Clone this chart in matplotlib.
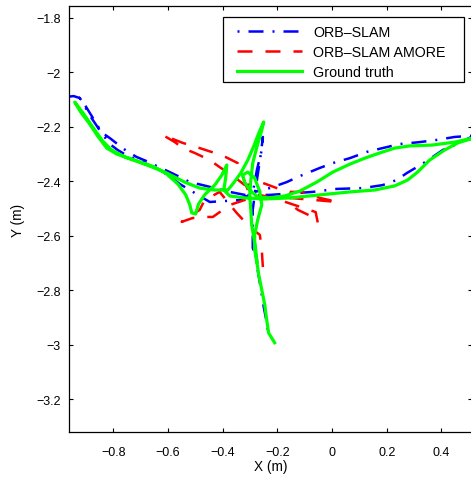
import numpy as np
import matplotlib
matplotlib.use("Agg")
import matplotlib.pyplot as plt
from matplotlib.patches import Rectangle

plt.rcParams['font.family'] = ['Liberation Sans', 'DejaVu Sans']

# ground truth trajectory (m)
gt_x = [-0.210, -0.221, -0.232, -0.239, -0.246, -0.257, -0.268, -0.275, -0.279, -0.286,
        -0.294, -0.297, -0.301, -0.297, -0.290, -0.275, -0.257, -0.250, -0.268, -0.286,
        -0.308, -0.334, -0.360, -0.381, -0.429, -0.484, -0.539, -0.612, -0.685, -0.758,
        -0.806, -0.839, -0.875, -0.908, -0.941, -0.919, -0.886, -0.857, -0.824, -0.787,
        -0.722, -0.648, -0.605, -0.564, -0.535, -0.520, -0.513, -0.499, -0.488, -0.466,
        -0.429, -0.403, -0.385, -0.389, -0.396, -0.374, -0.319, -0.246, -0.155, -0.045,
        0.065, 0.156, 0.229, 0.277, 0.313, 0.357, 0.412, 0.460, 0.520, 0.449,
        0.365, 0.284, 0.229, 0.174, 0.120, 0.065, 0.003, -0.056, -0.118, -0.173,
        -0.228, -0.272, -0.301, -0.319, -0.327, -0.308, -0.283, -0.264, -0.257, -0.272,
        -0.283, -0.283, -0.275]
gt_y = [-2.993, -2.975, -2.957, -2.909, -2.854, -2.799, -2.744, -2.696, -2.652, -2.608,
        -2.560, -2.505, -2.450, -2.395, -2.333, -2.274, -2.212, -2.182, -2.223, -2.270,
        -2.322, -2.370, -2.406, -2.432, -2.432, -2.425, -2.403, -2.366, -2.337, -2.311,
        -2.285, -2.252, -2.201, -2.153, -2.109, -2.146, -2.190, -2.234, -2.278, -2.300,
        -2.322, -2.348, -2.373, -2.410, -2.450, -2.487, -2.516, -2.520, -2.483, -2.450,
        -2.414, -2.377, -2.340, -2.388, -2.432, -2.454, -2.461, -2.465, -2.461, -2.450,
        -2.439, -2.432, -2.417, -2.395, -2.366, -2.322, -2.285, -2.259, -2.240, -2.256,
        -2.267, -2.270, -2.278, -2.296, -2.315, -2.337, -2.366, -2.403, -2.436, -2.454,
        -2.461, -2.458, -2.432, -2.406, -2.377, -2.366, -2.388, -2.439, -2.487, -2.542,
        -2.597, -2.652, -2.696]

# ORB-SLAM estimate (m)
orb_x = [-0.235, -0.242, -0.250, -0.257, -0.264, -0.272, -0.275, -0.290, -0.290, -0.290,
         -0.283, -0.272, -0.261, -0.253, -0.257, -0.275, -0.290, -0.338, -0.447, -0.484,
         -0.520, -0.557, -0.594, -0.630, -0.685, -0.747, -0.784, -0.813, -0.850, -0.894,
         -0.908, -0.923, -0.945, -0.963, -0.937, -0.916, -0.897, -0.879, -0.857, -0.839,
         -0.813, -0.776, -0.747, -0.714, -0.678, -0.641, -0.594, -0.557, -0.520, -0.473,
         -0.429, -0.374, -0.319, -0.228, -0.071, 0.017, 0.112, 0.185, 0.237, 0.273,
         0.310, 0.346, 0.405, 0.441, 0.520, 0.449, 0.383, 0.321, 0.248, 0.185,
         0.127, 0.065, 0.003, -0.045, -0.118, -0.166, -0.228, -0.283]
orb_y = [-2.946, -2.902, -2.861, -2.817, -2.773, -2.726, -2.682, -2.645, -2.579, -2.505,
         -2.450, -2.377, -2.304, -2.237, -2.285, -2.359, -2.443, -2.469, -2.476, -2.454,
         -2.432, -2.410, -2.381, -2.359, -2.333, -2.307, -2.285, -2.263, -2.212, -2.146,
         -2.113, -2.094, -2.087, -2.089, -2.087, -2.098, -2.131, -2.160, -2.197, -2.223,
         -2.241, -2.270, -2.292, -2.311, -2.326, -2.344, -2.366, -2.384, -2.403, -2.414,
         -2.425, -2.439, -2.450, -2.450, -2.439, -2.428, -2.425, -2.414, -2.395, -2.370,
         -2.348, -2.326, -2.285, -2.270, -2.232, -2.237, -2.248, -2.256, -2.263, -2.278,
         -2.292, -2.315, -2.333, -2.351, -2.381, -2.403, -2.425, -2.439]

# ORB-SLAM AMORE estimate (m)
amore_x = [-0.308, -0.345, -0.389, -0.429, -0.484, -0.546, -0.619, -0.575, -0.546, -0.502,
           -0.447, -0.411, -0.367, -0.319, -0.253, -0.202, -0.155, -0.107, -0.045, 0.021,
           -0.155, -0.162, -0.125, -0.071, -0.052, -0.060, -0.191, -0.264, -0.374, -0.436,
           -0.477, -0.510, -0.550, -0.484, -0.466, -0.411, -0.349, -0.301, -0.264, -0.257,
           -0.253]
amore_y = [-2.432, -2.333, -2.311, -2.296, -2.278, -2.259, -2.230, -2.256, -2.278, -2.296,
           -2.322, -2.348, -2.377, -2.414, -2.406, -2.425, -2.439, -2.439, -2.461, -2.476,
           -2.461, -2.476, -2.505, -2.531, -2.553, -2.513, -2.469, -2.450, -2.487, -2.531,
           -2.531, -2.535, -2.549, -2.505, -2.469, -2.439, -2.516, -2.568, -2.597, -2.652,
           -2.715]

fig = plt.figure(figsize=(4.71, 4.85), dpi=100)
ax = fig.add_axes([69 / 471, 52 / 485, 402.5 / 471, 426 / 485])

ax.plot(orb_x, orb_y, color=(0, 0, 1), linewidth=1.8,
        linestyle=(0, (0.8, 3.6, 6, 3.6)), label="ORB\u2013SLAM")
ax.plot(amore_x, amore_y, color=(1, 0, 0), linewidth=1.8,
        linestyle=(0, (6, 5.2)), label="ORB\u2013SLAM AMORE")
ax.plot(gt_x, gt_y, color=(0, 1, 0), linewidth=2.3, label="Ground truth")

ax.set_xlim(-0.962, 0.510)
ax.set_ylim(-3.321, -1.756)
ax.set_xticks([-0.8, -0.6, -0.4, -0.2, 0, 0.2, 0.4])
ax.set_xticklabels(["\u22120.8", "\u22120.6", "\u22120.4", "\u22120.2", "0", "0.2", "0.4"])
ax.set_yticks([-3.2, -3, -2.8, -2.6, -2.4, -2.2, -2, -1.8])
ax.set_yticklabels(["\u22123.2", "\u22123", "\u22122.8", "\u22122.6", "\u22122.4",
                    "\u22122.2", "\u22122", "\u22121.8"])
ax.tick_params(direction="in", top=True, right=True, length=3, width=0.8, labelsize=9)
ax.tick_params(axis="x", pad=10)
ax.tick_params(axis="y", pad=6)
for s in ax.spines.values():
    s.set_linewidth(0.9)

ax.set_xlabel("X (m)", fontsize=9.8, labelpad=1)
ax.set_ylabel("Y (m)", fontsize=9.8, labelpad=8)

# legend entries without frame, box drawn separately
leg = ax.legend(loc="upper left", bbox_to_anchor=(0.4174, 0.955), borderaxespad=0,
                fontsize=10.3, handlelength=4.55, handletextpad=0.77,
                borderpad=0, labelspacing=0.4, frameon=False)
ax.add_patch(Rectangle((0.3819, 0.8209), 0.5995, 0.1526, transform=ax.transAxes,
                       facecolor="white", edgecolor="black", linewidth=0.9, zorder=4))
leg.set_zorder(5)

fig.savefig("out.png", dpi=100)
